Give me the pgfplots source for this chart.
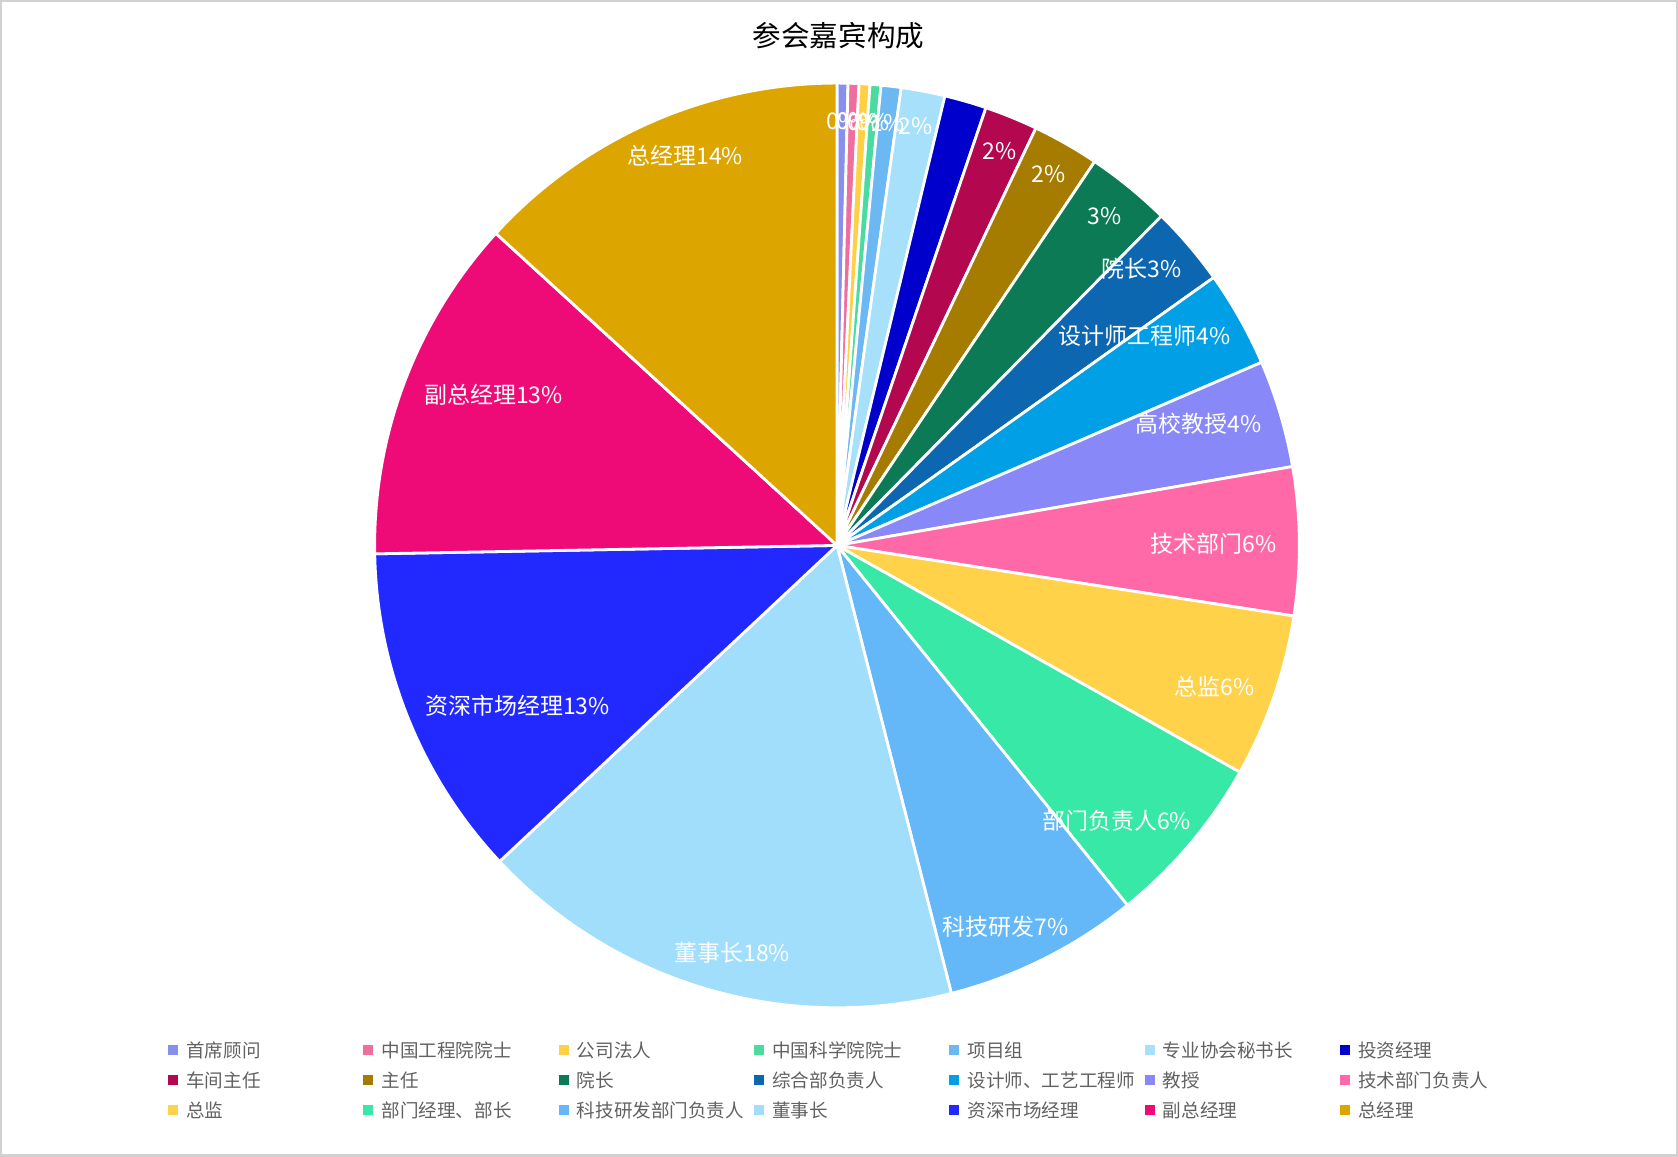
\documentclass[border=0pt]{standalone}
\usepackage{fontspec}
\setmainfont{Noto Sans CJK SC}
\usepackage{pgfplots}
\usepackage{pgfplotstable}
\pgfplotsset{compat=1.18}

% slice colours, in data order
\definecolor{c0}{HTML}{8890EE}
\definecolor{c1}{HTML}{F06E9E}
\definecolor{c2}{HTML}{FFD045}
\definecolor{c3}{HTML}{4ADBA0}
\definecolor{c4}{HTML}{6CB8F2}
\definecolor{c5}{HTML}{A6E0FA}
\definecolor{c6}{HTML}{0000CC}
\definecolor{c7}{HTML}{B3074F}
\definecolor{c8}{HTML}{A67C00}
\definecolor{c9}{HTML}{0B7A55}
\definecolor{c10}{HTML}{0D66B0}
\definecolor{c11}{HTML}{009FE6}
\definecolor{c12}{HTML}{8888F8}
\definecolor{c13}{HTML}{FF69A8}
\definecolor{c14}{HTML}{FFD24A}
\definecolor{c15}{HTML}{38E8A6}
\definecolor{c16}{HTML}{64B8F8}
\definecolor{c17}{HTML}{A0DEFC}
\definecolor{c18}{HTML}{2229FF}
\definecolor{c19}{HTML}{EE0B78}
\definecolor{c20}{HTML}{DDA500}

% value = share in percent, label = text inside the slice (- = none), lx/ly = label centre (px)
\pgfplotstableread[col sep=comma]{
name,value,label,lx,ly
首席顾问,0.38,0,843,1036
中国工程院院士,0.38,0,853,1036
公司法人,0.38,0,864,1035
中国科学院院士,0.38,0,873,1035
项目组,0.70,1,888,1034
专业协会秘书长,1.53,2,916,1031
投资经理,1.47,-,0,0
车间主任,1.86,2,1000,1006
主任,2.33,2,1049,983
院长,2.97,3,1105,941
综合部负责人,2.78,院长3,1142,888
设计师、工艺工程师,3.36,设计师工程师4,1145,821
教授,3.75,高校教授4,1199,733
技术部门负责人,5.17,技术部门6,1214,613
总监,5.72,总监6,1215,470
部门经理、部长,6.03,部门负责人6,1117,335
科技研发部门负责人,6.83,科技研发7,1006,229
董事长,17.00,董事长18,732,203
资深市场经理,11.69,资深市场经理13,517,450
副总经理,12.08,副总经理13,493,762
总经理,13.21,总经理14,685,1001
}\piedata

\pgfplotstablegetrowsof{\piedata}
\pgfmathtruncatemacro{\lastrow}{\pgfplotsretval-1}
\xdef\total{0}
\foreach \i in {0,...,\lastrow}{
  \pgfplotstablegetelem{\i}{value}\of\piedata
  \pgfmathsetmacro{\t}{\total+\pgfplotsretval}
  \xdef\total{\t}
}
\def\hid{-}
\xdef\cum{0}
\foreach \i in {0,...,\lastrow}{
  \pgfplotstablegetelem{\i}{value}\of\piedata
  \pgfmathsetmacro{\a}{\cum/\total*360}
  \pgfmathsetmacro{\c}{\cum+\pgfplotsretval}
  \pgfmathsetmacro{\b}{\c/\total*360}
  \xdef\cum{\c}
  \expandafter\xdef\csname sa\i\endcsname{\a}
  \expandafter\xdef\csname sb\i\endcsname{\b}
  \pgfplotstablegetelem{\i}{name}\of\piedata
  \expandafter\xdef\csname nm\i\endcsname{\pgfplotsretval}
  \pgfplotstablegetelem{\i}{label}\of\piedata
  \edef\lab{\pgfplotsretval}
  \ifx\lab\hid
    \expandafter\xdef\csname lab\i\endcsname{}
  \else
    \expandafter\xdef\csname lab\i\endcsname{\lab\noexpand\%}
  \fi
  \pgfplotstablegetelem{\i}{lx}\of\piedata
  \expandafter\xdef\csname lx\i\endcsname{\pgfplotsretval}
  \pgfplotstablegetelem{\i}{ly}\of\piedata
  \expandafter\xdef\csname ly\i\endcsname{\pgfplotsretval}
}

\begin{document}
\begin{tikzpicture}
\begin{axis}[
    scale only axis,
    width=839pt, height=578pt,
    xmin=0, xmax=1678, ymin=0, ymax=1156,
    xtick=\empty, ytick=\empty,
    axis line style={draw=black!18, line width=1.2pt},
    title={参会嘉宾构成},
    title style={at={(0.4997,0.9697)}, anchor=center, yshift=-6pt, font=\fontsize{14.3}{16}\selectfont},
    legend columns=7,
    legend style={at={(0.0994,0.063)}, anchor=west, draw=none, fill=none,
        inner sep=0pt, column sep=0pt, row sep=6pt,
        font=\fontsize{9.3}{11}\selectfont, text=black!62,
        nodes={inner sep=0pt, text height=7pt, text depth=2pt}},
]
\pgfplotsinvokeforeach{0,...,20}{
  \fill[c#1, draw=white, line width=1.4pt] (axis cs:837,611)
    -- ++({90-\csname sa#1\endcsname}:231.5pt)
    arc[start angle={90-\csname sa#1\endcsname}, end angle={90-\csname sb#1\endcsname}, radius=231.5pt]
    -- cycle;
  \addlegendimage{legend image code/.code={\fill[c#1] (0pt,-1pt) rectangle (4.5pt,3.5pt);}}
  \addlegendentry{\hspace*{4.2pt}\makebox[88.7pt][l]{\csname nm#1\endcsname}}
}
\pgfplotsinvokeforeach{0,...,20}{
  \node[text=white, font=\fontsize{11.5}{13}\selectfont, inner sep=0pt]
    at (axis cs:\csname lx#1\endcsname,\csname ly#1\endcsname) {\csname lab#1\endcsname};
}
\end{axis}
\end{tikzpicture}
\end{document}
